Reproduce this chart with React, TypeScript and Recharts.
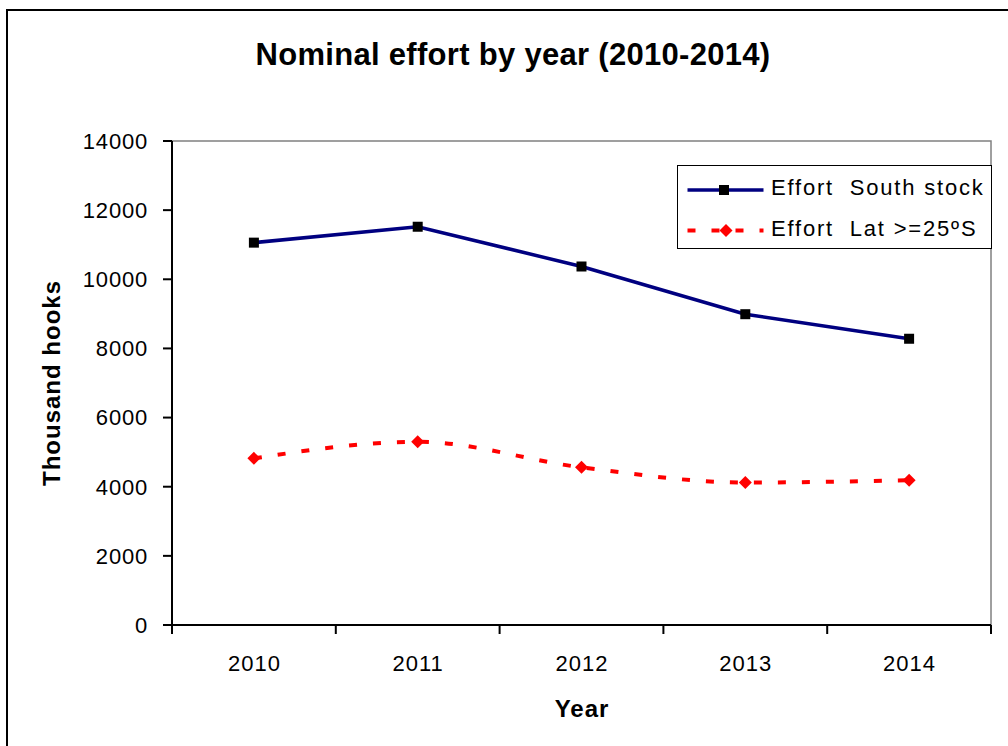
import React from "react";
import { LineChart, Line, XAxis, YAxis } from "recharts";

const years = [2010, 2011, 2012, 2013, 2014];
const southStock = [11060, 11520, 10370, 8990, 8280];
const latSouth = [4820, 5300, 4560, 4120, 4190];
const yTicks = [0, 2000, 4000, 6000, 8000, 10000, 12000, 14000];
const xBoundaries = [2009.5, 2010.5, 2011.5, 2012.5, 2013.5, 2014.5];
const seriesNames = ["Effort  South stock", "Effort  Lat >=25ºS"];

const data = years.map((y, i) => ({ year: y, south: southStock[i], lat: latSouth[i] }));

const FONT = "Arial, 'Liberation Sans', Helvetica, sans-serif";
const HALF_BAND = 81.9;

const SquareDot = (props: any) => {
  const { cx, cy, index } = props;
  if (cx == null || cy == null) return null;
  return <rect key={`s${index}`} x={cx - 5} y={cy - 5} width={10} height={10} fill="#000" />;
};

const DiamondDot = (props: any) => {
  const { cx, cy, index } = props;
  if (cx == null || cy == null) return null;
  return (
    <path
      key={`d${index}`}
      d={`M${cx},${cy - 6.5} L${cx + 6.5},${cy} L${cx},${cy + 6.5} L${cx - 6.5},${cy} Z`}
      fill="#FF0000"
    />
  );
};

const YearTick = (props: any) => {
  const { x, y, payload, index } = props;
  const year = Math.round(payload.value + 0.5);
  if (index >= years.length || !years.includes(year)) return null;
  return (
    <text
      x={x + HALF_BAND + 0.5}
      y={y + 35}
      textAnchor="middle"
      fill="#000"
      fontSize={22}
      fontFamily={FONT}
      style={{ letterSpacing: "1px" }}
    >
      {year}
    </text>
  );
};

const YTick = (props: any) => {
  const { x, y, payload } = props;
  return (
    <text
      x={x}
      y={y}
      dy="0.36em"
      textAnchor="end"
      fill="#000"
      fontSize={22}
      fontFamily={FONT}
      style={{ letterSpacing: "0.8px" }}
    >
      {payload.value}
    </text>
  );
};

const LegendBox = () => (
  <div
    style={{
      position: "absolute",
      left: 677,
      top: 165,
      width: 315,
      height: 84,
      border: "1.5px solid #000",
      background: "#fff",
      boxSizing: "border-box",
      fontFamily: FONT,
      fontSize: 22,
      letterSpacing: "1.8px",
      color: "#000",
    }}
  >
    <svg width={92} height={82} style={{ position: "absolute", left: 0, top: 0 }}>
      <line x1={9.5} x2={85.5} y1={24} y2={24} stroke="#000080" strokeWidth={3.5} />
      <rect x={41} y={19} width={10} height={10} fill="#000" />
      <line x1={9.5} x2={85.5} y1={64.5} y2={64.5} stroke="#FF0000" strokeWidth={4} strokeDasharray="8 16" />
      <path d="M48,58 L54.5,64.5 L48,71 L41.5,64.5 Z" fill="#FF0000" />
    </svg>
    <div style={{ position: "absolute", left: 93, top: 9, whiteSpace: "pre" }}>{seriesNames[0]}</div>
    <div style={{ position: "absolute", left: 93, top: 50, whiteSpace: "pre" }}>{seriesNames[1]}</div>
  </div>
);

export default function App() {
  return (
    <div
      style={{
        position: "absolute",
        left: 0,
        top: 0,
        width: 1008,
        height: 746,
        overflow: "hidden",
        background: "#fff",
        fontFamily: FONT,
      }}
    >
      <div
        style={{
          position: "absolute",
          left: 6,
          top: 9,
          width: 1100,
          height: 900,
          borderLeft: "2px solid #000",
          borderTop: "2px solid #000",
        }}
      />
      <div
        style={{
          position: "absolute",
          left: 0,
          width: 1026,
          top: 37,
          textAlign: "center",
          fontWeight: "bold",
          fontSize: 31,
          letterSpacing: "0.3px",
          whiteSpace: "nowrap",
          color: "#000",
        }}
      >
        Nominal effort by year (2010-2014)
      </div>
      <div
        style={{
          position: "absolute",
          left: 52,
          top: 383,
          transform: "translate(-50%, -50%) rotate(-90deg)",
          fontWeight: "bold",
          fontSize: 24,
          letterSpacing: "1px",
          whiteSpace: "nowrap",
          color: "#000",
        }}
      >
        Thousand hooks
      </div>
      <div
        style={{
          position: "absolute",
          left: 582,
          top: 709,
          transform: "translate(-50%, -50%)",
          fontWeight: "bold",
          fontSize: 24,
          letterSpacing: "1px",
          color: "#000",
        }}
      >
        Year
      </div>
      <div style={{ position: "absolute", left: 0, top: 0 }}>
        <LineChart
          width={1008}
          height={746}
          data={data}
          margin={{ top: 141, right: 17, bottom: 61, left: 112 }}
        >
          <rect x={172} y={141} width={819} height={484} fill="none" stroke="#808080" strokeWidth={1.5} />
          <XAxis
            dataKey="year"
            type="number"
            domain={[2009.5, 2014.5]}
            ticks={xBoundaries}
            interval={0}
            tick={<YearTick />}
            tickSize={9}
            height={60}
            axisLine={{ stroke: "#000", strokeWidth: 2 }}
            tickLine={{ stroke: "#000", strokeWidth: 2 }}
            allowDataOverflow
          />
          <YAxis
            domain={[0, 14000]}
            ticks={yTicks}
            width={60}
            tickSize={9}
            tickMargin={15}
            axisLine={{ stroke: "#000", strokeWidth: 2 }}
            tickLine={{ stroke: "#000", strokeWidth: 2 }}
            tick={<YTick />}
            interval={0}
            allowDataOverflow
          />
          <Line
            type="linear"
            dataKey="south"
            stroke="#000080"
            strokeWidth={3.5}
            dot={<SquareDot />}
            activeDot={false}
            isAnimationActive={false}
            name={seriesNames[0]}
          />
          <Line
            type="monotone"
            dataKey="lat"
            stroke="#FF0000"
            strokeWidth={4}
            strokeDasharray="8 16"
            dot={<DiamondDot />}
            activeDot={false}
            isAnimationActive={false}
            name={seriesNames[1]}
          />
        </LineChart>
      </div>
      <LegendBox />
    </div>
  );
}
